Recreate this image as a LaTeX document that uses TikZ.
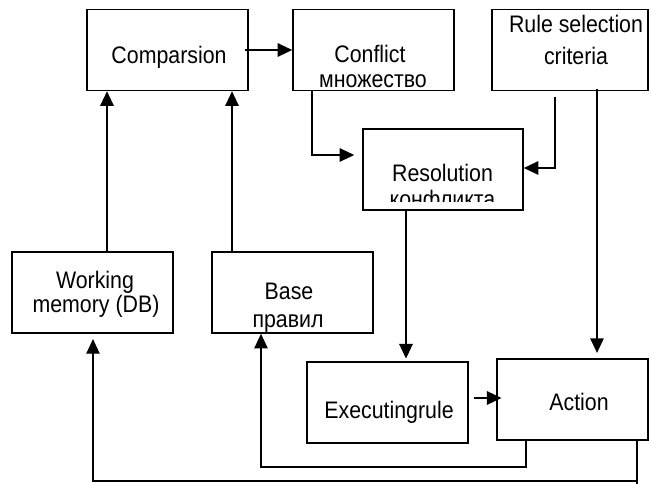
\documentclass[tikz,border=0pt]{standalone}
\usepackage{graphicx}
\usepackage{fontspec}
\setmainfont{Liberation Sans}
\usetikzlibrary{arrows.meta}
% labels are set slightly taller than the font's natural shape
\newcommand{\tall}[1]{\scalebox{1}[1.12]{#1}}
\begin{document}
\begin{tikzpicture}[x=0.75pt,y=-0.75pt,
  box/.style={draw, line width=1.1pt, rectangle, inner sep=0pt,
    minimum width=120.75pt, minimum height=60.75pt},
  txt/.style={anchor=base, inner sep=0pt, font=\fontsize{16}{19}\selectfont},
  arr/.style={line width=1.5pt, -{Triangle[length=11pt,width=10pt]}},
  fb/.style={line width=1.1pt, -{Triangle[length=11pt,width=10pt]}},
  ln/.style={line width=1.1pt}]
\useasboundingbox (0,0) rectangle (649,484);

% boxes
\node[box] (cmp) at (167.5,50) {};
\node[box] (cfl) at (373.5,50) {};
\node[box, minimum width=117pt] (rsc) at (570,50) {};
\node[box, minimum width=120pt] (res) at (443,169.5) {};
\node[box] (wm) at (92.5,292.5) {};
\node[box] (base) at (292.5,292.5) {};
\node[box] (exe) at (387.5,402.5) {};
\node[box, minimum width=113.25pt] (act) at (572.5,399.5) {};

% labels
\node[txt] (cmp-t) at (169,64) {\tall{Comparsion}};
\node[txt] (cfl-t1) at (370,63) {\tall{Conflict}};
\node[txt] (cfl-t2) at (373,88) {\tall{множество}};
\node[txt] (rsc-t1) at (576,33) {\tall{Rule selection}};
\node[txt] (rsc-t2) at (576,65) {\tall{criteria}};
\node[txt] (res-t1) at (442.5,182) {\tall{Resolution}};
\begin{scope}
  \clip (363,129) rectangle (523,202);
  \node[txt] (res-t2) at (442.5,208) {\tall{конфликта}};
\end{scope}
\node[txt] (wm-t1) at (95,289) {\tall{Working}};
\node[txt] (wm-t2) at (96,313) {\tall{memory (DB)}};
\node[txt] (base-t1) at (289,300) {\tall{Base}};
\node[txt] (base-t2) at (288,327) {\tall{правил}};
\node[txt] (exe-t) at (389,418) {\tall{Executingrule}};
\node[txt] (act-t) at (579,410) {\tall{Action}};

% forward flow
\draw[arr] ([xshift=-3pt]cmp.east) -- (cfl.west);
\draw[arr] (wm.north -| 107,0) -- (cmp.south -| 107,0);
\draw[arr] (base.north -| 232,0) -- (cmp.south -| 232,0);
\draw[arr, shorten >=6pt] (cfl.south -| 312,0) -- (312,155) -- (res.west |- 0,155);
\draw[arr, shorten <=4pt] (rsc.south -| 555,0) -- (555,168) -- (res.east |- 0,168);
\draw[arr, shorten >=4pt] ([yshift=2pt]rsc.south -| 597,0) -- (act.north -| 597,0);
\draw[arr, shorten >=2pt] (res.south -| 406,0) -- (exe.north -| 406,0);
\draw[arr, shorten <=4pt, shorten >=-4pt] (exe.east |- 0,398) -- (act.west |- 0,398);

% feedback lines
\draw[fb] (act.south -| 526,0) -- (526,467) -- (261,467) -- (base.south -| 261,0);
\coordinate (j) at (637,481);
\draw[ln] (act.south -| 637,0) -- (637,484);
\draw[fb, shorten >=4pt] (j) -- (93,481) -- (wm.south -| 93,0);
\end{tikzpicture}
\end{document}
